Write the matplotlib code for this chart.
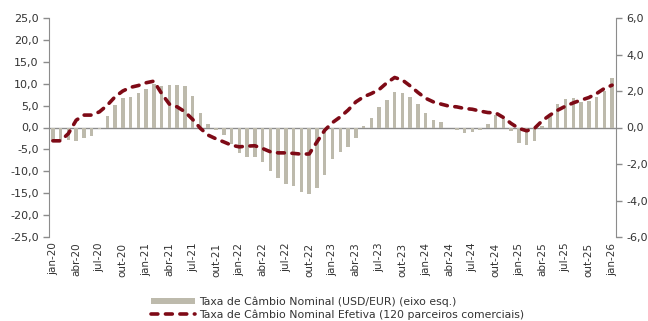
import matplotlib
matplotlib.use("Agg")
import matplotlib.pyplot as plt
from matplotlib.ticker import FuncFormatter, MultipleLocator
from matplotlib.patches import Patch
from matplotlib.lines import Line2D

months_pt = ["jan", "fev", "mar", "abr", "mai", "jun", "jul", "ago", "set", "out", "nov", "dez"]
years = [20, 21, 22, 23, 24, 25, 26]
labels = [f"{m}-{y}" for y in years for m in months_pt][:73]

# Taxa de câmbio nominal USD/EUR, variação homóloga (%)
nominal = [
    -3.0, -2.9, -2.9, -3.0, -2.5, -2.0, -0.3, 2.7, 5.1, 6.7, 7.0, 7.8,
    8.8, 9.9, 9.4, 9.7, 9.7, 9.5, 7.1, 3.2, 0.7, -0.6, -1.6, -3.7,
    -5.9, -6.8, -6.8, -7.8, -10.0, -11.6, -13.0, -13.4, -14.7, -15.1, -13.9, -10.9,
    -7.2, -5.6, -4.4, -2.4, 0.3, 2.1, 4.6, 6.2, 8.1, 7.8, 7.0, 5.3,
    3.3, 1.7, 1.2, -0.1, -0.5, -1.2, -1.1, -0.6, 0.9, 2.8, 1.9, -0.8,
    -3.5, -4.1, -3.0, 0.3, 2.6, 5.3, 6.4, 6.8, 5.9, 6.1, 7.0, 8.4,
    11.3,
]

# Taxa de câmbio nominal efetiva (120 parceiros comerciais), variação homóloga (%)
efetiva = [
    -0.73, -0.73, -0.33, 0.40, 0.68, 0.68, 0.86, 1.22, 1.68, 2.00, 2.20, 2.30,
    2.45, 2.54, 1.86, 1.28, 1.13, 0.86, 0.44, -0.05, -0.42, -0.62, -0.79, -0.97,
    -1.06, -1.02, -1.00, -1.15, -1.33, -1.39, -1.39, -1.42, -1.46, -1.45, -0.79, -0.15,
    0.27, 0.58, 0.95, 1.40, 1.68, 1.86, 2.08, 2.45, 2.74, 2.60, 2.28, 1.92,
    1.60, 1.40, 1.28, 1.17, 1.13, 1.04, 1.00, 0.90, 0.82, 0.80, 0.55, 0.22,
    -0.05, -0.18, -0.05, 0.37, 0.68, 0.95, 1.17, 1.35, 1.50, 1.64, 1.86, 2.14,
    2.32,
]

legend_labels = [
    "Taxa de Câmbio Nominal (USD/EUR) (eixo esq.)",
    "Taxa de Câmbio Nominal Efetiva (120 parceiros comerciais)",
]

bar_color = "#BDBAAC"
line_color = "#7E0A16"
axis_color = "#8C8C8C"
text_color = "#333333"
line_dashes = (1.9, 2.1)

plt.rcParams["font.family"] = ["DejaVu Sans"]

fig = plt.figure(figsize=(6.48, 3.21), dpi=100)
ax = fig.add_axes([49 / 648, 1 - 237 / 321, (616 - 49) / 648, (237 - 18) / 321])
ax2 = ax.twinx()

x = list(range(len(nominal)))
ax.bar(x, nominal, width=0.45, color=bar_color, zorder=2)
ax.axhline(0, color=axis_color, lw=1.0, zorder=1)
ax2.plot(x, efetiva, color=line_color, lw=2.6, dashes=line_dashes, zorder=3,
         dash_capstyle="round", dash_joinstyle="round")

ax.set_xlim(-0.5, 72.5)
ax.set_ylim(-25, 25)
ax2.set_ylim(-6, 6)
ax.yaxis.set_major_locator(MultipleLocator(5))
ax2.yaxis.set_major_locator(MultipleLocator(2))

fmt = FuncFormatter(lambda v, p: f"{v:.1f}".replace(".", ","))
ax.yaxis.set_major_formatter(fmt)
ax2.yaxis.set_major_formatter(fmt)

tick_pos = x[::3]
ax.set_xticks(tick_pos)
ax.set_xticklabels([labels[i] for i in tick_pos], rotation=90, fontsize=7.5, color=text_color)
ax.tick_params(axis="x", length=0, pad=4)

for a in (ax, ax2):
    for s in ("top", "bottom"):
        a.spines[s].set_visible(False)
    a.tick_params(axis="y", labelsize=8, colors=axis_color, labelcolor=text_color,
                  length=4, width=1, direction="out")
ax.spines["left"].set_color(axis_color)
ax.spines["right"].set_visible(False)
ax2.spines["left"].set_visible(False)
ax2.spines["right"].set_color(axis_color)
ax2.tick_params(axis="x", length=0)

handles = [
    Patch(facecolor=bar_color, edgecolor="none"),
    Line2D([0], [0], color=line_color, lw=2.6, dashes=line_dashes, dash_capstyle="round"),
]
fig.legend(handles, legend_labels, loc="center", bbox_to_anchor=(338 / 648, 1 - 308 / 321),
           ncol=1, frameon=False, fontsize=7.8, handlelength=4.0, handleheight=0.35,
           labelspacing=0.2, handletextpad=0.45, labelcolor=text_color, borderpad=0)

fig.savefig("out.png", dpi=100)
